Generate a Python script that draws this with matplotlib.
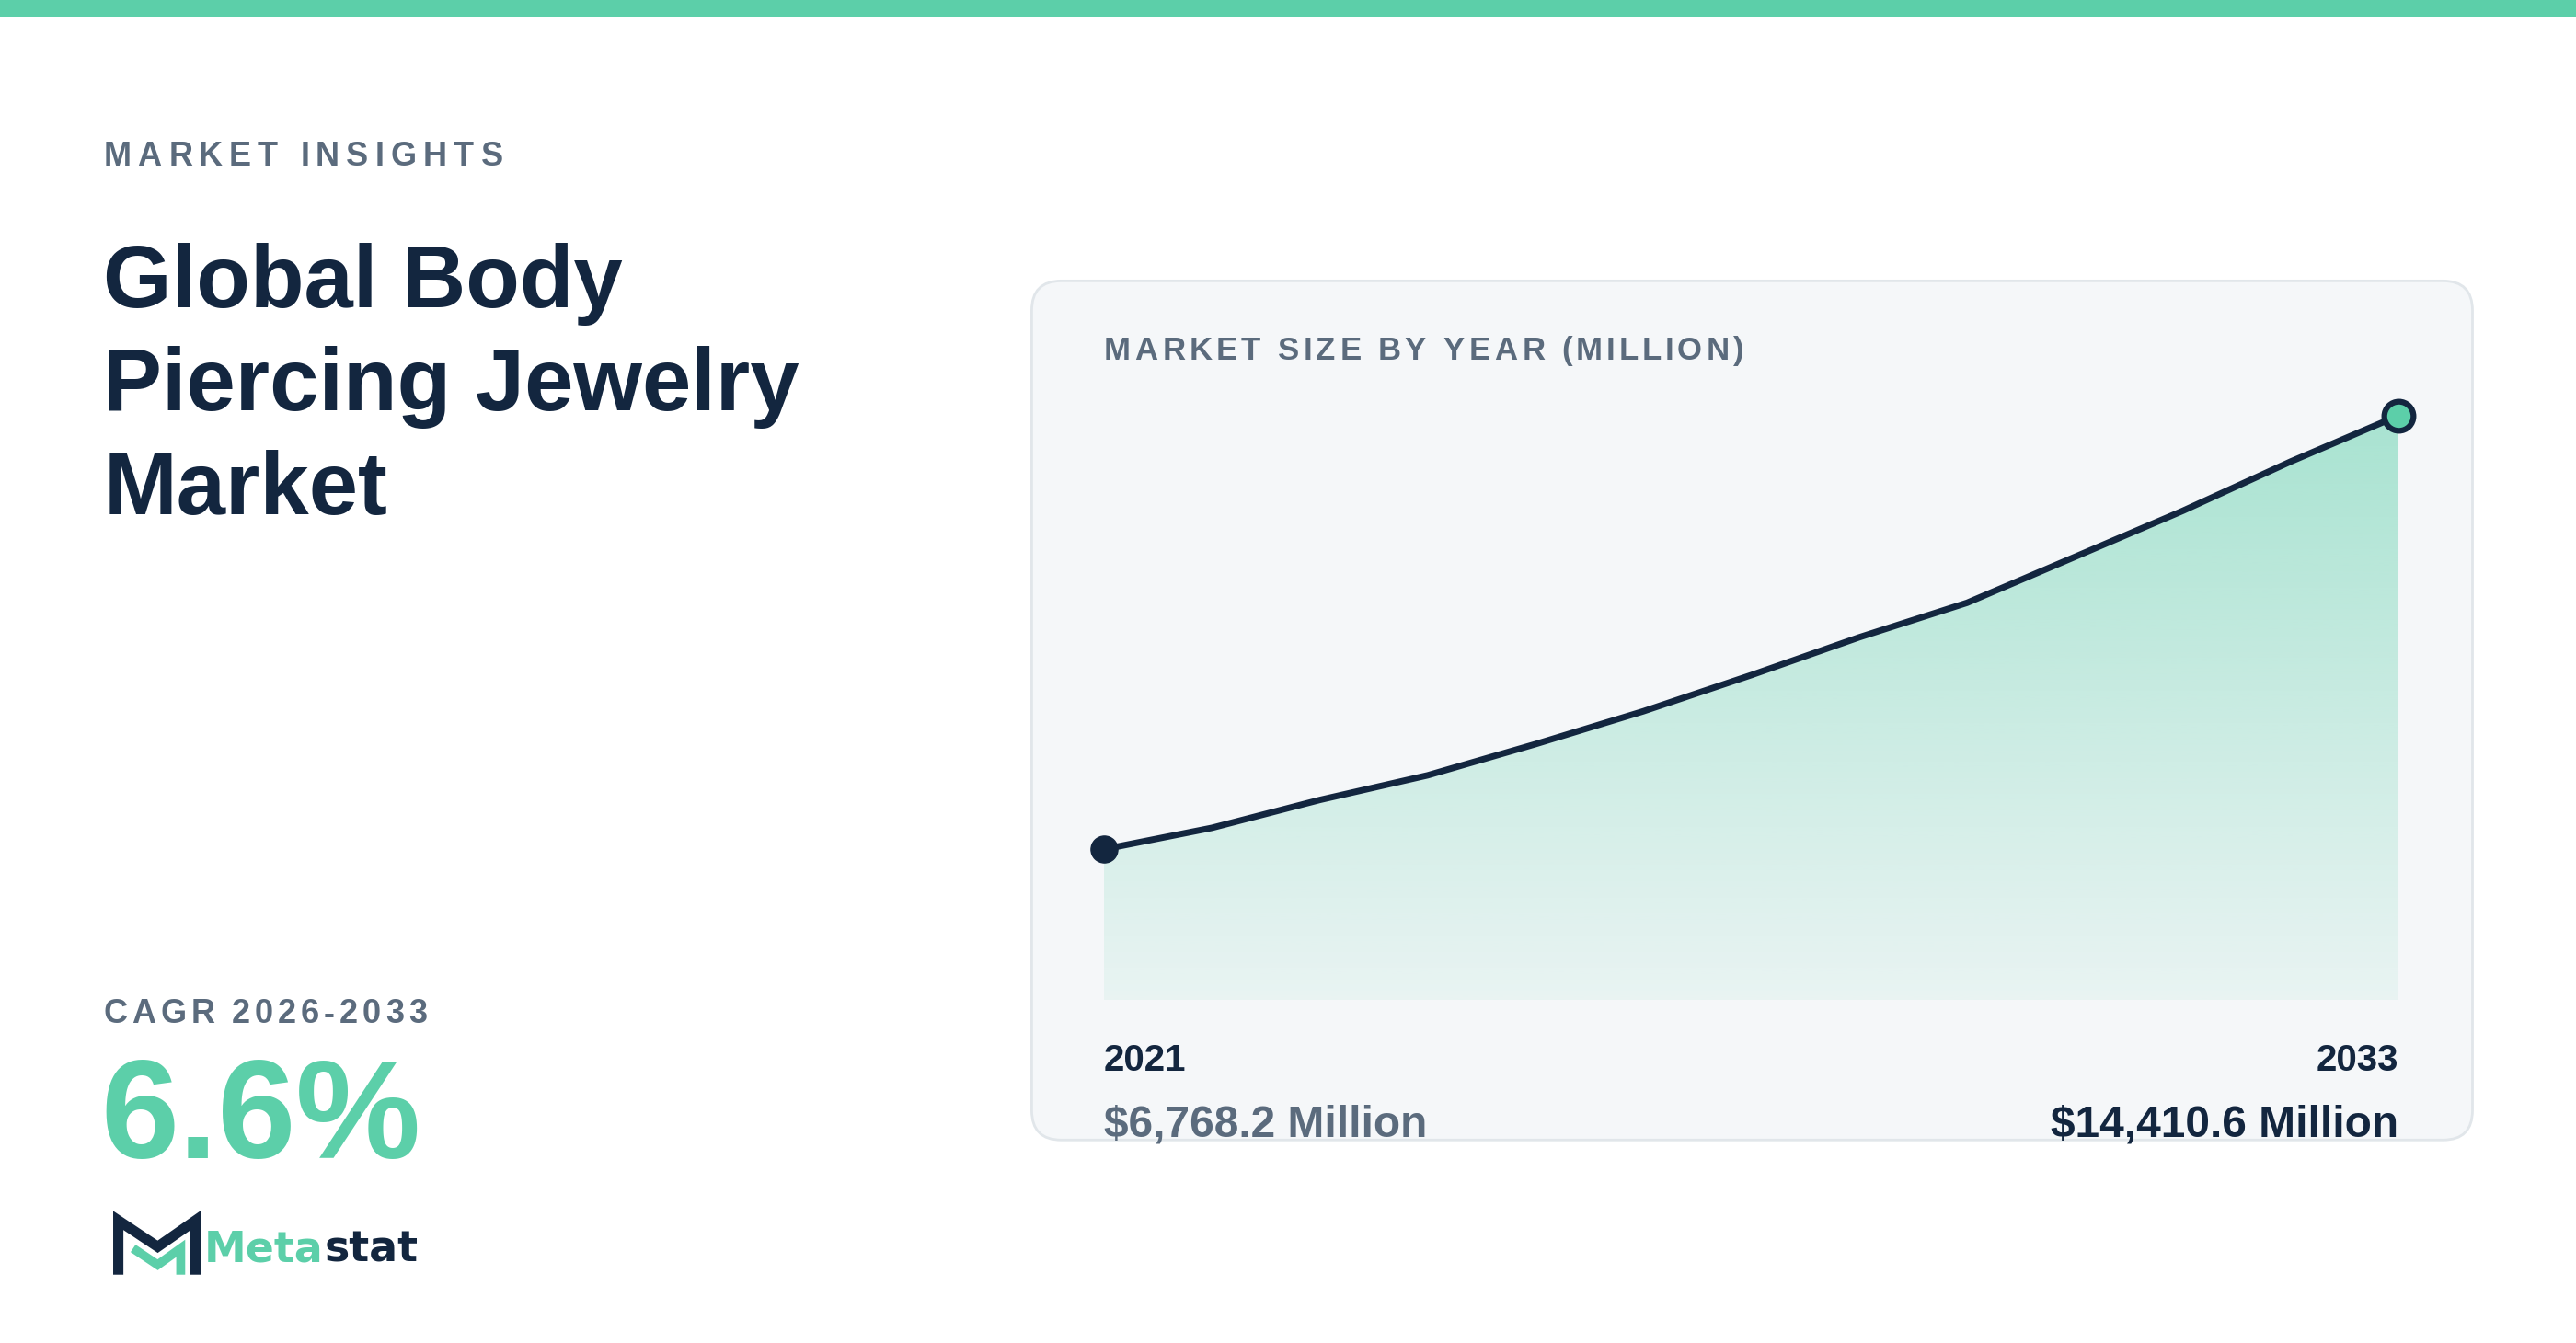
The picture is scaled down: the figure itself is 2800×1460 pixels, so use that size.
import matplotlib
matplotlib.use("Agg")
import matplotlib.pyplot as plt
import numpy as np
from matplotlib.patches import FancyBboxPatch, Rectangle, Polygon
from matplotlib.textpath import TextPath
from matplotlib.font_manager import FontProperties

years = [2021, 2022, 2023, 2024, 2025, 2026, 2027, 2028, 2029, 2030, 2031, 2032, 2033]
values = [6768.2, 7145, 7637, 8071, 8621, 9200, 9837, 10503, 11111, 11921, 12732, 13600, 14410.6]
title_lines = ["Global Body", "Piercing Jewelry", "Market"]
cagr = "6.6%"

NAVY = "#13263f"; GREEN = "#5ccfa9"; GREY = "#5b6b7d"
W, H = 1568, 817.6
PT = 1.286  # display px -> points

fig = plt.figure(figsize=(28, 14.6), dpi=100)
bg = fig.add_axes([0, 0, 1, 1]); bg.set_xlim(0, W); bg.set_ylim(H, 0); bg.axis("off")
bg.add_patch(Rectangle((0, 0), W, 10, color=GREEN, lw=0))

def adv(s, size, fp):
    a = TextPath((0, 0), s + "|", size=size, prop=fp).get_extents().width
    b = TextPath((0, 0), "|", size=size, prop=fp).get_extents().width
    return (a - b) / PT

def spaced(x, y, s, size, color, spacing, weight="bold"):
    fp = FontProperties(family="Liberation Sans", weight=weight)
    for ch in s:
        bg.text(x, y, ch, fontsize=size, color=color, fontproperties=fp, va="baseline", ha="left")
        x += (adv(ch, size, fp) if ch != " " else size * 0.28 / PT) + spacing

spaced(63, 101, "MARKET INSIGHTS", 26, GREY, 3.5)
for i, line in enumerate(title_lines):
    bg.text(63, 187 + i * 63, line, fontsize=69, color=NAVY, family="Liberation Sans",
            weight="bold", va="baseline")
spaced(63, 623, "CAGR 2026-2033", 26, GREY, 2.0)
bg.text(61, 705, cagr, fontsize=110, color=GREEN, family="Liberation Sans", weight="bold", va="baseline")

# logo
bg.plot([72, 72, 96, 119, 119], [776, 743, 759, 743, 776], color=NAVY, lw=8, solid_joinstyle="miter", solid_capstyle="butt")
bg.plot([81, 96, 110, 110], [760, 770, 760, 776], color=GREEN, lw=7, solid_joinstyle="miter", solid_capstyle="butt")
lfp = FontProperties(family="DejaVu Sans", weight="bold")
bg.text(124, 768, "Meta", fontsize=33, color=GREEN, fontproperties=lfp, va="baseline")
bg.text(124 + adv("Meta", 33, lfp), 768, "stat", fontsize=33, color=NAVY, fontproperties=lfp, va="baseline")

# card
bg.add_patch(FancyBboxPatch((628, 171), 877, 523, boxstyle="round,pad=0,rounding_size=18",
                            fc="#f5f7f9", ec="#e1e6ea", lw=2))
spaced(672, 219, "MARKET SIZE BY YEAR (MILLION)", 25, GREY, 2.0)

# chart axes: x 672..1460, y 240..609
ax = fig.add_axes([672 / W, 1 - 609 / H, (1460 - 672) / W, (609 - 240) / H])
ymin, ymax = 4105, 14410.6 + 13 * 28.95
ax.set_xlim(years[0], years[-1]); ax.set_ylim(ymin, ymax); ax.axis("off")
grad = np.linspace(0.5, 0.08, 256).reshape(-1, 1)
rgba = np.zeros((256, 1, 4)); rgba[..., :3] = matplotlib.colors.to_rgb(GREEN); rgba[..., 3] = grad
im = ax.imshow(rgba, extent=[years[0], years[-1], ymin, max(values)], origin="upper", aspect="auto", zorder=1)
poly = Polygon(list(zip(years, values)) + [(years[-1], ymin), (years[0], ymin)], closed=True, fc="none", ec="none")
ax.add_patch(poly); im.set_clip_path(poly)
ax.plot(years, values, color=NAVY, lw=5, zorder=3, clip_on=False, solid_joinstyle="round")
ax.scatter([years[0]], [values[0]], s=440, color=NAVY, zorder=4, clip_on=False)
ax.scatter([years[-1]], [values[-1]], s=520, color=GREEN, edgecolor=NAVY, linewidth=4.5, zorder=4, clip_on=False)

bg.text(672, 652, str(years[0]), fontsize=29, color=NAVY, family="Liberation Sans", weight="bold", va="baseline")
bg.text(1460, 652, str(years[-1]), fontsize=29, color=NAVY, family="Liberation Sans", weight="bold", va="baseline", ha="right")
bg.text(672, 692, f"${values[0]:,.1f} Million", fontsize=34.5, color=GREY, family="Liberation Sans", weight="bold", va="baseline")
bg.text(1460, 692, f"${values[-1]:,.1f} Million", fontsize=34.5, color=NAVY, family="Liberation Sans", weight="bold", va="baseline", ha="right")

fig.savefig("out.png", dpi=100, facecolor="white")
